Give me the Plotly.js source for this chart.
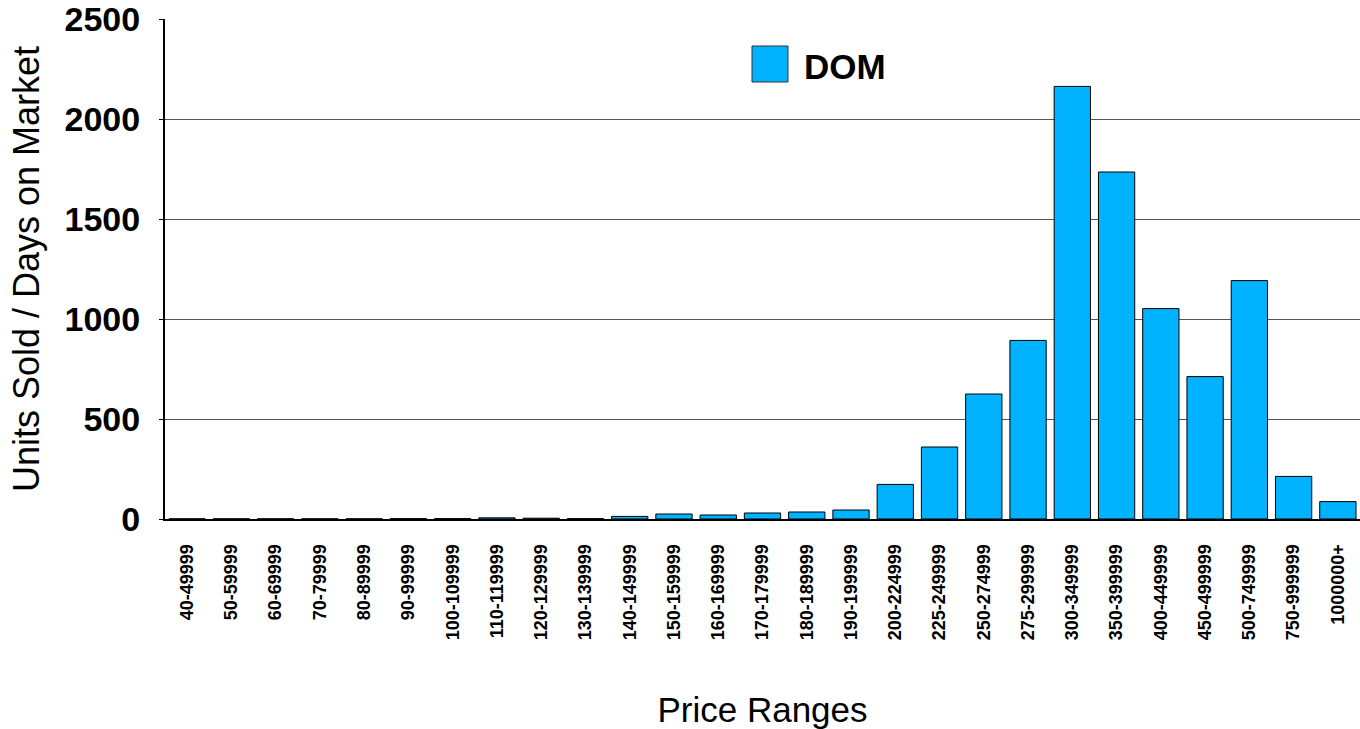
<!DOCTYPE html>
<html>
<head>
<meta charset="utf-8">
<script src="https://cdn.plot.ly/plotly-3.0.1.min.js"></script>
<style>
  html, body { margin: 0; padding: 0; background: #fff; }
  #chart { width: 1360px; height: 729px; }
</style>
</head>
<body>
<div id="chart"></div>
<script>
// Price range buckets
const priceRanges = [
  "40-49999", "50-59999", "60-69999", "70-79999", "80-89999", "90-99999",
  "100-109999", "110-119999", "120-129999", "130-139999", "140-149999",
  "150-159999", "160-169999", "170-179999", "180-189999", "190-199999",
  "200-224999", "225-249999", "250-274999", "275-299999", "300-349999",
  "350-399999", "400-449999", "450-499999", "500-749999", "750-999999",
  "1000000+"
];

// Days on market per bucket
const domValues = [
  1, 1, 1, 1, 1, 2,
  2, 6, 4, 2, 13,
  25, 20, 30, 35, 45,
  173, 360, 625, 893, 2163,
  1735, 1052, 712, 1192, 213,
  87
];

const yTicks = [0, 500, 1000, 1500, 2000, 2500];

const FONT = "Liberation Sans, Arial, Helvetica, sans-serif";
const BAR_BLUE = "#00b2ff";

const trace = {
  type: "bar",
  x: priceRanges,
  y: domValues,
  name: "DOM",
  showlegend: false,
  marker: { color: BAR_BLUE, line: { color: "#000", width: 1 } },
  hoverinfo: "x+y"
};

const layout = {
  width: 1360,
  height: 729,
  margin: { l: 165, r: 0, t: 19, b: 210 },
  paper_bgcolor: "#fff",
  plot_bgcolor: "#fff",
  bargap: 0.18,
  font: { family: FONT, color: "#000" },
  xaxis: {
    type: "category",
    tickangle: -90,
    tickfont: { family: FONT, size: 18, color: "#000", weight: "bold" },
    ticks: "",
    ticklabelstandoff: 16,
    showline: true,
    linecolor: "#000",
    linewidth: 2,
    showgrid: false,
    zeroline: false,
    title: { text: "Price Ranges", font: { family: FONT, size: 35, color: "#000" }, standoff: 60 }
  },
  yaxis: {
    range: [0, 2500],
    tickvals: yTicks,
    ticktext: yTicks.map(String),
    tickfont: { family: FONT, size: 34, color: "#000", weight: "bold" },
    ticklabeloverflow: "allow",
    ticks: "outside",
    ticklen: 4,
    tickcolor: "#000",
    ticklabelstandoff: 12,
    showline: true,
    linecolor: "#000",
    linewidth: 2,
    showgrid: true,
    gridcolor: "#555",
    gridwidth: 1,
    zeroline: false,
    title: { text: "Units Sold / Days on Market", font: { family: FONT, size: 36, color: "#000" }, standoff: 14 }
  },
  shapes: [
    // legend swatch
    { type: "rect", xref: "paper", yref: "paper",
      x0: (752 - 165) / 1195, x1: (788 - 165) / 1195,
      y0: (519 - 82) / 500, y1: (519 - 46) / 500,
      fillcolor: BAR_BLUE, line: { color: "#333", width: 1 } }
  ],
  annotations: [
    { xref: "paper", yref: "paper", x: (802 - 165) / 1195, y: (519 - 67) / 500,
      xanchor: "left", yanchor: "middle", showarrow: false,
      text: "<b>DOM</b>", font: { family: FONT, size: 35, color: "#000" } }
  ]
};

Plotly.newPlot("chart", [trace], layout, { displayModeBar: false, staticPlot: true });
</script>
</body>
</html>
